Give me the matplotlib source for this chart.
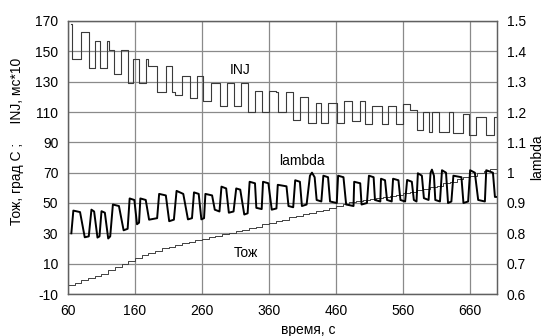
import numpy as np
import matplotlib
matplotlib.use("Agg")
import matplotlib.pyplot as plt

plt.rcParams['font.family'] = ['Liberation Sans', 'DejaVu Sans']
plt.rcParams['axes.unicode_minus'] = False

# INJ, ms*10 (step changes: time, value)
inj_t = [64, 66, 80, 92, 100, 108, 118, 121, 128, 139, 149, 157, 166, 176, 180,
         193, 206, 215, 219, 230, 242, 253, 262, 274, 287, 297, 307, 318, 328,
         339, 349, 360, 371, 373, 386, 395, 406, 418, 430, 438, 448, 461, 472,
         483, 495, 503, 513, 528, 538, 550, 560, 570, 580, 590, 598, 603, 613,
         628, 635, 650, 658, 668, 683, 696, 700]
inj_v = [168, 145, 163, 139, 157, 139, 157, 151, 135, 151, 129, 145, 129, 145, 140,
         123, 140, 123, 121, 134, 119, 134, 117, 129, 114, 129, 114, 129, 110,
         124, 110, 124, 123, 110, 123, 105, 120, 103, 116, 103, 116, 103, 117,
         104, 117.5, 102, 114, 102, 114, 102, 115, 111, 98, 110, 97, 110, 97,
         110, 96, 109, 95, 107, 95, 107, 107]

# lambda (right axis)
lam_t = [65, 68, 78, 85, 91, 95, 99, 104, 107, 110, 115, 120, 123, 127, 136,
         143, 149, 152, 159, 163, 166, 168, 176, 181, 193, 196, 206, 211, 218,
         222, 232, 239, 245, 248, 255, 259, 263, 265, 275, 279, 286, 289, 296,
         300, 307, 311, 317, 323, 328, 331, 339, 341, 349, 351, 359, 364, 371,
         373, 386, 389, 396, 399, 406, 409, 416, 421, 424, 428, 431, 438, 441,
         448, 451, 461, 463, 471, 475, 486, 487, 496, 498, 506, 509, 516, 518,
         526, 527, 533, 536, 543, 545, 553, 556, 563, 566, 573, 576, 580, 582,
         588, 591, 598, 601, 603, 606, 608, 615, 618, 624, 627, 632, 635, 647,
         650, 657, 660, 667, 672, 682, 684, 694, 697, 700]
lam_v = [0.80, 0.875, 0.87, 0.787, 0.79, 0.878, 0.872, 0.786, 0.79, 0.873, 0.868,
         0.783, 0.79, 0.895, 0.89, 0.81, 0.815, 0.915, 0.91, 0.83, 0.835, 0.915,
         0.91, 0.845, 0.85, 0.93, 0.925, 0.84, 0.845, 0.94, 0.93, 0.846, 0.85,
         0.935, 0.93, 0.846, 0.85, 0.93, 0.925, 0.878, 0.872, 0.954, 0.948,
         0.868, 0.872, 0.948, 0.944, 0.862, 0.866, 0.97, 0.965, 0.884, 0.88,
         0.97, 0.965, 0.878, 0.882, 0.96, 0.955, 0.89, 0.886, 0.975, 0.97,
         0.89, 0.895, 0.99, 1.0, 0.985, 0.91, 0.905, 0.99, 0.985, 0.905, 0.9,
         0.99, 0.985, 0.895, 0.89, 0.97, 0.965, 0.895, 0.9, 0.99, 0.985, 0.91,
         0.905, 0.98, 0.975, 0.91, 0.905, 0.98, 0.975, 0.91, 0.905, 0.976,
         0.97, 0.91, 0.905, 0.998, 0.99, 0.916, 0.91, 1.0, 1.01, 0.99, 0.91,
         0.905, 1.008, 1.0, 0.9, 0.905, 0.99, 0.985, 0.9, 0.905, 1.008, 1.0,
         0.91, 0.905, 1.008, 1.0, 0.92, 0.92]

# Тож, град С (every 10 s)
toz_t = list(range(60, 701, 10))
toz_v = [-4, -2.5, -1, 0.5, 2, 3.5, 5.5, 7.5, 9.5, 12, 14, 15.5, 17, 18.5, 20,
         21, 22, 23.5, 24.5, 25.5, 26.5, 27.5, 28.5, 29.5, 30.5, 31.5, 32.5,
         33.5, 34.5, 36, 37, 38, 39, 40.5, 41.5, 42.5, 43.5, 44.5, 45.5, 46.5,
         48, 49.5, 50.5, 51, 52, 52.5, 53, 54, 54.5, 55.5, 56.5, 57.5, 58.5,
         59.5, 60.5, 61.5, 63, 64, 65.5, 67, 68, 69.5, 71, 72.5, 73.5]

fig = plt.figure(figsize=(5.43, 3.36), dpi=100)
ax = fig.add_axes([0.1252, 0.125, 0.79, 0.8125])
ax2 = ax.twinx()

gc = '#8a8a8a'
ax.set_xlim(60, 700)
ax.set_ylim(-10, 170)
ax.set_xticks(range(60, 700, 100))
ax.set_yticks(range(-10, 171, 20))
ax.grid(True, color=gc, lw=0.9)
ax2.set_ylim(0.6, 1.5)
ax2.set_yticks(np.arange(0.6, 1.51, 0.1))
ax2.set_yticklabels(['0.6', '0.7', '0.8', '0.9', '1', '1.1', '1.2', '1.3', '1.4', '1.5'])

ax.plot(inj_t, inj_v, drawstyle='steps-post', color='#3a3a3a', lw=0.8)
ax.plot(toz_t, toz_v, drawstyle='steps-post', color='#404040', lw=0.7)
ax2.plot(lam_t, lam_v, color='black', lw=1.4)

for a in (ax, ax2):
    a.tick_params(length=0, labelsize=10, pad=7)
    for s in a.spines.values():
        s.set_color('#606060')
        s.set_linewidth(0.9)

ax.text(317, 137.5, 'INJ', ha='center', va='center', fontsize=10)
ax.text(409, 77.5, 'lambda', ha='center', va='center', fontsize=10)
ax.text(326, 17, 'Тож', ha='center', va='center', fontsize=10)

ax.set_ylabel('Тож, град С ;     INJ, мс*10', fontsize=10)
ax.yaxis.set_label_coords(-0.103, 0.56)
ax2.set_ylabel('lambda', fontsize=10)
ax2.yaxis.set_label_coords(1.077, 0.5)
ax.set_xlabel('время, с', fontsize=10)
ax.xaxis.set_label_coords(0.56, -0.105)

fig.savefig('out.png', dpi=100)
